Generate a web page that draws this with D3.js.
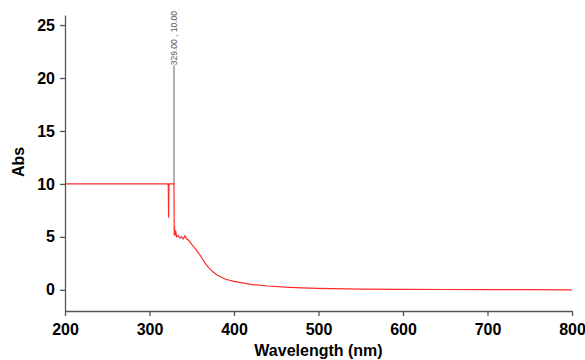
<!DOCTYPE html>
<html>
<head>
<meta charset="utf-8">
<script src="https://cdn.jsdelivr.net/npm/d3@7"></script>
<style>
  body { margin: 0; background: #fff; }
  svg { display: block; font-family: "Liberation Sans", Arial, sans-serif; }
  .axis path, .axis line { stroke: #555; stroke-width: 1.3; }
  .axis text { font-size: 16px; font-weight: bold; fill: #000; }
</style>
</head>
<body>
<div id="chart"></div>
<script>
// spectrum, wavelength (nm) vs absorbance
const wavelength = [200, 320, 322.2, 322.6, 323, 328.6, 329, 329.3, 329.6, 330, 331, 332, 334, 336, 338, 340, 342, 344, 346, 348, 350, 354, 358, 362, 366, 370, 375, 380, 390, 400, 410, 420, 440, 460, 480, 500, 550, 600, 650, 700, 750, 800];
const absorbance = [10, 10, 10, 6.8, 10, 10, 10, 5.2, 6.0, 5.1, 5.6, 5.0, 5.1, 4.9, 5.0, 4.8, 5.1, 4.8, 4.7, 4.5, 4.3, 3.9, 3.5, 3.0, 2.5, 2.1, 1.7, 1.4, 1.0, 0.8, 0.65, 0.52, 0.36, 0.25, 0.18, 0.13, 0.07, 0.04, 0.03, 0.02, 0.01, 0.0];

const xTicks = [200, 300, 400, 500, 600, 700, 800];
const yTicks = [0, 5, 10, 15, 20, 25];

// peak marker
const peakX = 329;
const peakY = 10;
const peakTop = 21.2;
const peakLabel = '329.00 , 10.00';

const width = 585, height = 360;
const margin = {top: 15, right: 13, bottom: 49, left: 65};
const innerW = width - margin.left - margin.right;
const innerH = height - margin.top - margin.bottom;

const svg = d3.select('#chart').append('svg')
  .attr('width', width)
  .attr('height', height);

const g = svg.append('g')
  .attr('transform', `translate(${margin.left}, ${margin.top})`);

const x = d3.scaleLinear().domain([200, 800]).range([0, innerW]);
const y = d3.scaleLinear().domain([-2, 25.95]).range([innerH, 0]);

g.append('g')
  .attr('class', 'axis')
  .attr('transform', `translate(0, ${innerH})`)
  .call(d3.axisBottom(x).tickValues(xTicks).tickSize(5).tickSizeOuter(0).tickPadding(8));

g.append('g')
  .attr('class', 'axis')
  .call(d3.axisLeft(y).tickValues(yTicks).tickSize(5).tickSizeOuter(0).tickPadding(5));

// peak line and label
g.append('line')
  .attr('x1', x(peakX)).attr('x2', x(peakX))
  .attr('y1', y(peakY)).attr('y2', y(peakTop))
  .attr('stroke', '#888')
  .attr('stroke-width', 1.3);

g.append('text')
  .attr('transform', `translate(${x(peakX) + 3}, ${y(peakTop)}) rotate(-90)`)
  .attr('font-size', 8.5)
  .attr('fill', '#555')
  .text(peakLabel);

const data = wavelength.map((w, i) => [w, absorbance[i]]);

const line = d3.line()
  .x(d => x(d[0]))
  .y(d => y(d[1]));

g.append('path')
  .datum(data)
  .attr('fill', 'none')
  .attr('stroke', '#ff2a2a')
  .attr('stroke-width', 1.2)
  .attr('d', line);

// axis titles
svg.append('text')
  .attr('transform', `translate(24, ${margin.top + y(10) - 22}) rotate(-90)`)
  .attr('text-anchor', 'middle')
  .attr('font-size', 16)
  .attr('font-weight', 'bold')
  .text('Abs');

svg.append('text')
  .attr('x', margin.left + x(500))
  .attr('y', 356)
  .attr('text-anchor', 'middle')
  .attr('font-size', 16)
  .attr('font-weight', 'bold')
  .text('Wavelength (nm)');
</script>
</body>
</html>
